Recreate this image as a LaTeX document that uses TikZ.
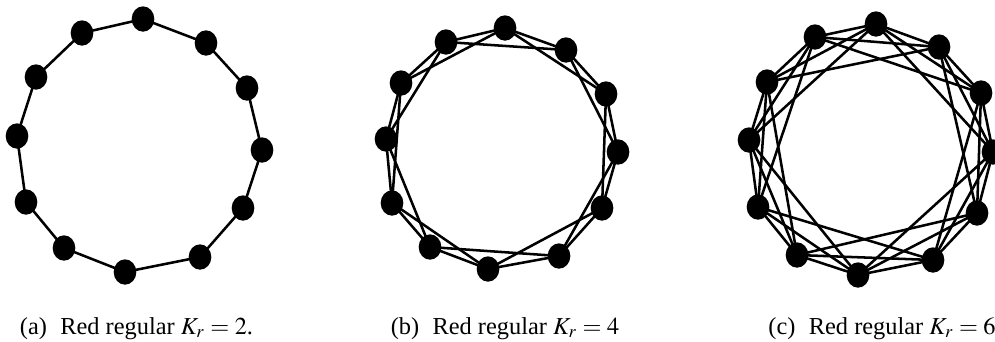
\documentclass[tikz,border=0pt]{standalone}
\usepackage{mathptmx}
\usepackage{fontspec}
\setmainfont{Liberation Serif}
\newcommand{\graphdotx}{1.7mm}
\newcommand{\graphdoty}{1.9mm}
\tikzset{
  graph edge/.style={line width=.38mm},
  graph caption/.style={font=\fontsize{10.4}{12}\selectfont,inner sep=0pt,anchor=base}
}
\newcommand{\GraphDot}[1]{\fill (#1) ellipse [x radius=\graphdotx,y radius=\graphdoty];}
% edges i -- i+k for k = 1..#2 on a ring of 12
\newcommand{\RingEdges}[2]{%
  \foreach \i in {1,...,12} {
    \foreach \k in {1,...,#2} {
      \pgfmathtruncatemacro{\j}{mod(\i+\k-1,12)+1}
      \draw[graph edge] (#1\i)--(#1\j);
    }
  }}

\begin{document}
\begin{tikzpicture}[x=0.15mm,y=-0.15mm,line cap=round,line join=round]
  \clip (0,0) rectangle (995,341);

  % (a) ring
  \coordinate (a1)  at (143, 19);
  \coordinate (a2)  at (206, 43);
  \coordinate (a3)  at (247, 88);
  \coordinate (a4)  at (262,150);
  \coordinate (a5)  at (243,208);
  \coordinate (a6)  at (200,257);
  \coordinate (a7)  at (125,272);
  \coordinate (a8)  at ( 64,248);
  \coordinate (a9)  at ( 26,202);
  \coordinate (a10) at ( 17,136);
  \coordinate (a11) at ( 36, 77);
  \coordinate (a12) at ( 82, 33);
  \RingEdges{a}{1}

  % (b) ring
  \coordinate (b1)  at (505, 28);
  \coordinate (b2)  at (566, 50);
  \coordinate (b3)  at (606, 94);
  \coordinate (b4)  at (618,152);
  \coordinate (b5)  at (602,208);
  \coordinate (b6)  at (559,256);
  \coordinate (b7)  at (488,269);
  \coordinate (b8)  at (430,247);
  \coordinate (b9)  at (392,203);
  \coordinate (b10) at (386,139);
  \coordinate (b11) at (401, 83);
  \coordinate (b12) at (446, 42);
  \RingEdges{b}{2}

  % (c) ring
  \coordinate (c1)  at (876, 24);
  \coordinate (c2)  at (939, 47);
  \coordinate (c3)  at (981, 93);
  \coordinate (c4)  at (993,152);
  \coordinate (c5)  at (977,213);
  \coordinate (c6)  at (933,260);
  \coordinate (c7)  at (858,275);
  \coordinate (c8)  at (797,255);
  \coordinate (c9)  at (758,207);
  \coordinate (c10) at (749,140);
  \coordinate (c11) at (767, 82);
  \coordinate (c12) at (815, 37);
  \RingEdges{c}{3}

  \foreach \g in {a,b,c} {
    \foreach \n in {1,...,12} {\GraphDot{\g\n}}
  }

  \node[graph caption] (capa) at (136.5,334) {(a)\hspace{0.55em}Red regular $K_r=2$.};
  \node[graph caption] (capb) at (505,334) {(b)\hspace{0.55em}Red regular $K_r=4$};
  \node[graph caption] (capc) at (882,334) {(c)\hspace{0.55em}Red regular $K_r=6$};
\end{tikzpicture}
\end{document}
